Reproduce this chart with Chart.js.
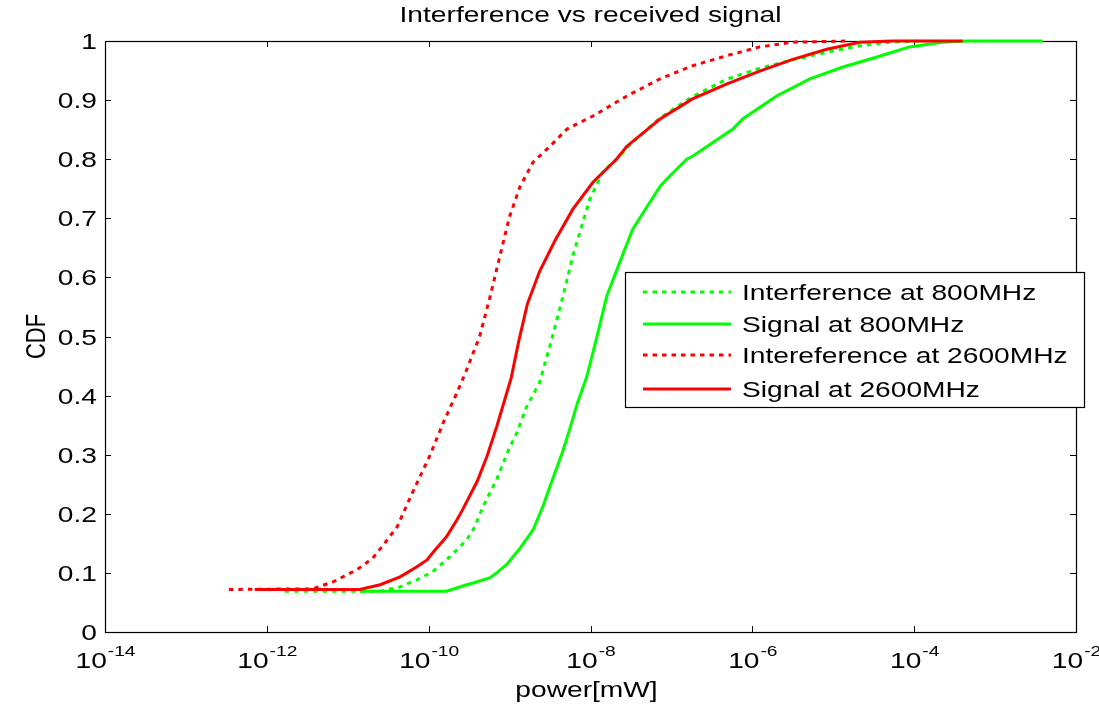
<!doctype html>
<html>
<head>
<meta charset="UTF-8">
<title>Interference vs received signal</title>
<style>
  body { margin: 0; background: #fff; }
  canvas { display: block; }
</style>
</head>
<body>
<canvas id="cdfChart" width="1099" height="707"></canvas>
<script src="https://cdn.jsdelivr.net/npm/chart.js@4/dist/chart.umd.min.js"></script>
<script>
// power values are kept as log10(power in mW), CDF as fraction
var int800Exp = [-11.78, -10.60, -10.36, -10.15, -9.95, -9.74, -9.53, -9.43, -9.33, -9.16, -9.03, -8.91, -8.79, -8.63, -8.47, -8.34, -8.22, -8.11, -8.01, -7.85, -7.64, -7.50, -7.14, -6.74, -6.32, -5.91, -5.50, -5.08, -4.67, -4.30, -3.90];
var int800Cdf = [0.069, 0.069, 0.076, 0.088, 0.102, 0.127, 0.156, 0.178, 0.212, 0.258, 0.303, 0.337, 0.381, 0.422, 0.500, 0.568, 0.636, 0.686, 0.732, 0.778, 0.805, 0.826, 0.870, 0.906, 0.935, 0.954, 0.968, 0.981, 0.992, 0.998, 1.000];

var sig800Exp = [-10.85, -9.78, -9.53, -9.45, -9.24, -9.16, -9.03, -8.96, -8.87, -8.71, -8.59, -8.47, -8.35, -8.26, -8.16, -8.05, -7.92, -7.80, -7.64, -7.48, -7.30, -7.14, -7.06, -6.81, -6.74, -6.24, -6.12, -5.70, -5.29, -4.88, -4.46, -4.06, -3.65, -3.35, -2.41];
var sig800Cdf = [0.069, 0.069, 0.080, 0.083, 0.092, 0.100, 0.115, 0.127, 0.142, 0.173, 0.212, 0.258, 0.303, 0.342, 0.388, 0.430, 0.500, 0.568, 0.625, 0.681, 0.720, 0.754, 0.766, 0.800, 0.805, 0.851, 0.868, 0.907, 0.936, 0.956, 0.973, 0.990, 0.998, 1.000, 1.000];

var int2600Exp = [-12.47, -11.43, -11.18, -10.89, -10.69, -10.54, -10.39, -10.20, -9.99, -9.82, -9.65, -9.55, -9.37, -9.24, -9.12, -9.00, -8.87, -8.71, -8.50, -8.29, -7.97, -7.55, -7.14, -6.74, -6.32, -5.91, -5.50, -4.80];
var int2600Cdf = [0.072, 0.073, 0.085, 0.105, 0.125, 0.151, 0.178, 0.236, 0.297, 0.354, 0.405, 0.437, 0.500, 0.568, 0.636, 0.703, 0.754, 0.795, 0.822, 0.851, 0.873, 0.907, 0.936, 0.958, 0.975, 0.990, 0.998, 1.000];

var sig2600Exp = [-12.15, -10.85, -10.60, -10.36, -10.27, -10.15, -10.02, -9.95, -9.78, -9.65, -9.58, -9.40, -9.28, -9.16, -9.06, -8.98, -8.89, -8.78, -8.63, -8.44, -8.22, -7.97, -7.68, -7.55, -7.14, -6.74, -6.32, -5.91, -5.50, -5.08, -4.67, -4.27, -3.40];
var sig2600Cdf = [0.072, 0.072, 0.080, 0.093, 0.100, 0.110, 0.122, 0.134, 0.161, 0.190, 0.207, 0.255, 0.297, 0.347, 0.393, 0.430, 0.490, 0.555, 0.610, 0.662, 0.715, 0.761, 0.800, 0.822, 0.868, 0.902, 0.927, 0.949, 0.969, 0.986, 0.998, 1.000, 1.000];

var xTickExps = [-14, -12, -10, -8, -6, -4, -2];
var yTicks = [0, 0.1, 0.2, 0.3, 0.4, 0.5, 0.6, 0.7, 0.8, 0.9, 1];

var titleText = 'Interference vs received signal';
var xLabel = 'power[mW]';
var yLabel = 'CDF';

var GREEN = 'rgb(0,255,0)';
var RED = 'rgb(255,0,0)';
var FONT = '"Liberation Sans", Arial, sans-serif';
var STRETCH = 1.28; // text in this figure is drawn wide

function pts(exps, cdf) {
  return exps.map(function (e, i) { return { x: Math.pow(10, e), y: cdf[i] }; });
}

function wideText(ctx, text, x, y, size, align) {
  ctx.save();
  ctx.font = size + 'px ' + FONT;
  ctx.fillStyle = '#000';
  ctx.textBaseline = 'alphabetic';
  ctx.translate(x, y);
  ctx.scale(STRETCH, 1);
  ctx.textAlign = align || 'left';
  ctx.fillText(text, 0, 0);
  ctx.restore();
}

function textW(ctx, text, size) {
  ctx.save();
  ctx.font = size + 'px ' + FONT;
  var w = ctx.measureText(text).width * STRETCH;
  ctx.restore();
  return w;
}

// frame with inward ticks on all four sides (drawn under the curves)
var framePlugin = {
  id: 'frame',
  beforeDatasetsDraw: function (chart) {
    var ctx = chart.ctx, a = chart.chartArea;
    var xs = chart.scales.x, ys = chart.scales.y;
    ctx.save();
    ctx.strokeStyle = '#000';
    ctx.lineWidth = 1.2;
    ctx.strokeRect(a.left + 0.5, a.top + 0.5, a.right - a.left, a.bottom - a.top);
    ctx.lineWidth = 1;
    ctx.beginPath();
    yTicks.forEach(function (v) {
      var y = Math.round(ys.getPixelForValue(v)) + 0.5;
      ctx.moveTo(a.left, y); ctx.lineTo(a.left + 6, y);
      ctx.moveTo(a.right, y); ctx.lineTo(a.right - 6, y);
    });
    xTickExps.forEach(function (e) {
      var x = Math.round(xs.getPixelForValue(Math.pow(10, e))) + 0.5;
      ctx.moveTo(x, a.bottom); ctx.lineTo(x, a.bottom - 6);
      ctx.moveTo(x, a.top); ctx.lineTo(x, a.top + 6);
    });
    ctx.stroke();
    ctx.restore();
  },
  afterDraw: function (chart) {
    var ctx = chart.ctx, a = chart.chartArea;
    var xs = chart.scales.x, ys = chart.scales.y;
    var midX = (a.left + a.right) / 2;

    // y tick labels
    yTicks.forEach(function (v) {
      wideText(ctx, String(v), a.left - 8, ys.getPixelForValue(v) + 8, 22, 'right');
    });
    // x tick labels as 10 with a raised exponent
    xTickExps.forEach(function (e) {
      var x = xs.getPixelForValue(Math.pow(10, e));
      var sup = String(e);
      var w1 = textW(ctx, '10', 22), w2 = textW(ctx, sup, 15);
      var x0 = x - (w1 + w2) / 2;
      wideText(ctx, '10', x0, a.bottom + 36, 22, 'left');
      wideText(ctx, sup, x0 + w1 + 1, a.bottom + 24, 15, 'left');
    });

    wideText(ctx, titleText, midX, 22, 22, 'center');
    wideText(ctx, xLabel, midX - 4, 697, 22, 'center');

    // rotated y label
    ctx.save();
    ctx.font = '22px ' + FONT;
    ctx.fillStyle = '#000';
    ctx.translate(45, (a.top + a.bottom) / 2);
    ctx.scale(STRETCH, 1);
    ctx.rotate(-Math.PI / 2);
    ctx.textAlign = 'center';
    ctx.fillText(yLabel, 0, 0);
    ctx.restore();

    // legend box
    var lx = 625, ly = 272, lw = 459, lh = 135;
    var rows = [292, 324, 355, 389];
    ctx.save();
    ctx.fillStyle = '#fff';
    ctx.fillRect(lx, ly, lw, lh);
    ctx.strokeStyle = '#000';
    ctx.lineWidth = 1.2;
    ctx.strokeRect(lx + 0.5, ly + 0.5, lw, lh);
    chart.data.datasets.forEach(function (ds, i) {
      ctx.beginPath();
      ctx.strokeStyle = ds.borderColor;
      ctx.lineWidth = ds.borderWidth;
      ctx.setLineDash(ds.borderDash || []);
      ctx.moveTo(643, rows[i]); ctx.lineTo(731, rows[i]);
      ctx.stroke();
      ctx.setLineDash([]);
      wideText(ctx, ds.label, 742, rows[i] + 8, 22, 'left');
    });
    ctx.restore();
  }
};

var ctx = document.getElementById('cdfChart');
var cdfChart = new Chart(ctx, {
  type: 'scatter',
  data: {
    datasets: [
      { label: 'Interference at 800MHz', data: pts(int800Exp, int800Cdf), borderColor: GREEN, borderDash: [4.5, 5], order: 3 },
      { label: 'Signal at 800MHz', data: pts(sig800Exp, sig800Cdf), borderColor: GREEN, order: 2 },
      { label: 'Intereference at 2600MHz', data: pts(int2600Exp, int2600Cdf), borderColor: RED, borderDash: [4.5, 5], order: 1 },
      { label: 'Signal at 2600MHz', data: pts(sig2600Exp, sig2600Cdf), borderColor: RED, order: 0 }
    ].map(function (d) {
      d.showLine = true;
      d.borderWidth = 3;
      d.pointRadius = 0;
      d.tension = 0;
      d.fill = false;
      d.clip = 4;
      return d;
    })
  },
  options: {
    responsive: false,
    animation: false,
    layout: { padding: { left: 105, right: 23, top: 41, bottom: 75 } },
    plugins: {
      legend: { display: false },
      title: { display: false },
      tooltip: { enabled: false }
    },
    scales: {
      x: { type: 'logarithmic', min: 1e-14, max: 1e-2, display: false },
      y: { type: 'linear', min: 0, max: 1, display: false }
    }
  },
  plugins: [framePlugin]
});
</script>
</body>
</html>
